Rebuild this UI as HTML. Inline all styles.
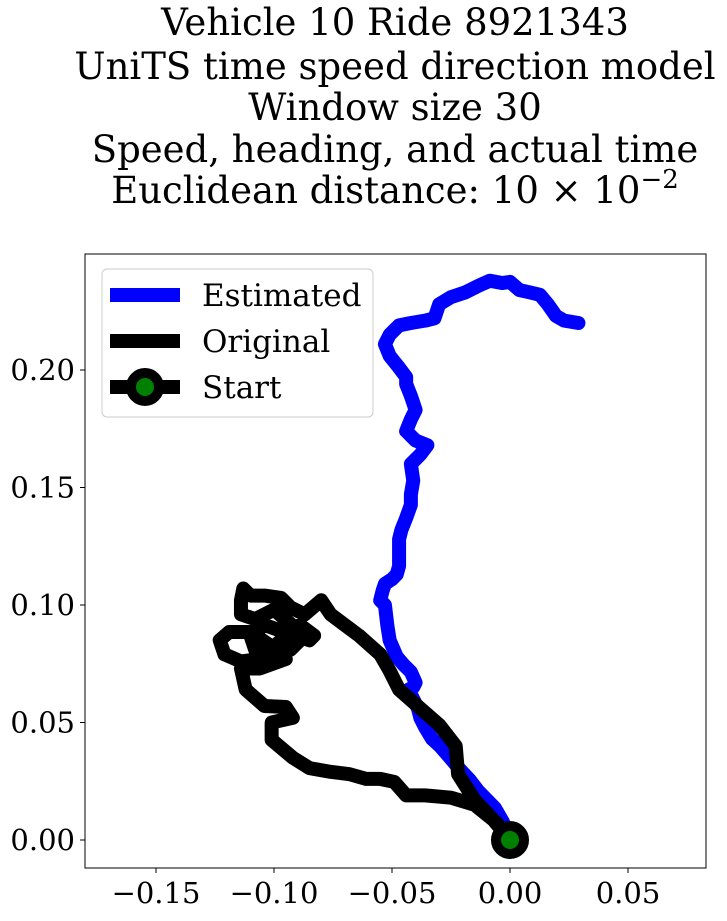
<!DOCTYPE html>
<html><head><meta charset="utf-8"><style>
body{margin:0;background:#fff;}
svg text{font-family:"DejaVu Serif","Liberation Serif",serif;fill:#000;}
</style></head><body>
<svg id="chart" width="727" height="916" xmlns="http://www.w3.org/2000/svg">
<g font-size="37" text-anchor="middle">
<text x="395" y="35">Vehicle 10 Ride 8921343</text>
<text x="395" y="79">UniTS time speed direction model</text>
<text x="395" y="120">Window size 30</text>
<text x="395" y="162">Speed, heading, and actual time</text>
<text x="395" y="203">Euclidean distance: 10 × 10<tspan dy="-15" font-size="26">−2</tspan></text>
</g>
<defs><clipPath id="clip"><rect x="85" y="254" width="621" height="614"/></clipPath></defs>
<g id="marks" clip-path="url(#clip)"></g>
<rect x="85" y="254" width="621" height="614" fill="none" stroke="#000" stroke-width="1"/>
<g id="axes"></g>
<g>
<rect x="102" y="269" width="271" height="148" rx="5" fill="#fff" fill-opacity="0.8" stroke="#ccc"/>
<g><line x1="110" y1="295" x2="180" y2="295" stroke="#0000ff" stroke-width="14"/><text x="202" y="306" font-size="31">Estimated</text></g>
<g><line x1="110" y1="341" x2="180" y2="341" stroke="#000" stroke-width="14"/><text x="202" y="352" font-size="31">Original</text></g>
<g><line x1="110" y1="387" x2="180" y2="387" stroke="#000" stroke-width="14"/><circle cx="145" cy="387" r="14" fill="#008000" stroke="#000" stroke-width="10"/><text x="202" y="398" font-size="31">Start</text></g>
</g>
</svg>
<script>
const estX=[0,-0.003,-0.0064,-0.0097,-0.0136,-0.017,-0.0212,-0.0254,-0.0297,-0.033,-0.036,-0.038,-0.039,-0.041,-0.043,-0.041,-0.040,-0.042,-0.045,-0.048,-0.051,-0.052,-0.053,-0.055,-0.054,-0.053,-0.050,-0.048,-0.047,-0.047,-0.046,-0.044,-0.042,-0.042,-0.041,-0.042,-0.038,-0.035,-0.040,-0.042,-0.044,-0.042,-0.040,-0.042,-0.044,-0.044,-0.047,-0.051,-0.053,-0.051,-0.047,-0.042,-0.036,-0.032,-0.030,-0.025,-0.019,-0.013,-0.0085,-0.0034,0,0.004,0.0085,0.0127,0.016,0.0195,0.023,0.029];
const estY=[0,0.0077,0.0136,0.017,0.021,0.0255,0.030,0.035,0.040,0.043,0.048,0.052,0.056,0.060,0.064,0.065,0.067,0.0715,0.0745,0.078,0.085,0.0915,0.100,0.102,0.106,0.109,0.111,0.113,0.1166,0.128,0.132,0.137,0.1426,0.147,0.153,0.160,0.164,0.168,0.170,0.172,0.174,0.179,0.183,0.189,0.194,0.197,0.201,0.206,0.211,0.215,0.219,0.220,0.221,0.222,0.228,0.231,0.233,0.236,0.238,0.237,0.2375,0.234,0.233,0.232,0.228,0.223,0.221,0.220];
const origX=[0,-0.007,-0.015,-0.022,-0.023,-0.030,-0.038,-0.047,-0.051,-0.055,-0.064,-0.070,-0.076,-0.080,-0.087,-0.093,-0.097,-0.104,-0.110,-0.113,-0.114,-0.114,-0.108,-0.100,-0.093,-0.089,-0.093,-0.102,-0.108,-0.110,-0.104,-0.097,-0.091,-0.085,-0.083,-0.089,-0.097,-0.106,-0.114,-0.121,-0.123,-0.119,-0.110,-0.102,-0.095,-0.106,-0.114,-0.112,-0.104,-0.095,-0.092,-0.101,-0.101,-0.092,-0.085,-0.076,-0.068,-0.061,-0.055,-0.049,-0.044,-0.036,-0.025,-0.015,-0.006,0];
const origY=[0,0.0085,0.017,0.028,0.040,0.049,0.056,0.064,0.072,0.079,0.087,0.0915,0.096,0.102,0.096,0.099,0.103,0.104,0.104,0.107,0.102,0.096,0.094,0.098,0.092,0.085,0.081,0.079,0.081,0.087,0.0915,0.089,0.087,0.085,0.087,0.0915,0.085,0.077,0.076,0.079,0.085,0.0885,0.0885,0.083,0.077,0.073,0.073,0.064,0.057,0.0566,0.052,0.050,0.0426,0.035,0.0306,0.029,0.028,0.026,0.026,0.0247,0.019,0.019,0.018,0.015,0.0077,0];
const xTicks=[-0.15,-0.10,-0.05,0.00,0.05];
const yTicks=[0.00,0.05,0.10,0.15,0.20];
const xLabels=["−0.15","−0.10","−0.05","0.00","0.05"];
const yLabels=["0.00","0.05","0.10","0.15","0.20"];
const sx=v=>510+v*2360, sy=v=>840-v*2350;
const NS="http://www.w3.org/2000/svg";
const marks=document.getElementById('marks'), axes=document.getElementById('axes');
function poly(xs,ys,color,name){
  const p=document.createElementNS(NS,'polyline');
  p.setAttribute('points',xs.map((x,i)=>sx(x)+','+sy(ys[i])).join(' '));
  p.setAttribute('fill','none');p.setAttribute('stroke',color);p.setAttribute('stroke-width','14');
  p.setAttribute('stroke-linejoin','round');p.setAttribute('stroke-linecap','round');
  
  
  marks.appendChild(p);
}
poly(estX,estY,'#0000ff','estimated-path');
poly(origX,origY,'#000','original-path');
const c=document.createElementNS(NS,'circle');
c.setAttribute('cx',sx(origX[0]));c.setAttribute('cy',sy(origY[0]));c.setAttribute('r','14');
c.setAttribute('fill','#008000');c.setAttribute('stroke','#000');c.setAttribute('stroke-width','10');


marks.appendChild(c);
xTicks.forEach((t,i)=>{
  const l=document.createElementNS(NS,'line');
  l.setAttribute('x1',sx(t));l.setAttribute('x2',sx(t));l.setAttribute('y1',868);l.setAttribute('y2',873);l.setAttribute('stroke','#000');
  
  
  axes.appendChild(l);
  const tx=document.createElementNS(NS,'text');
  tx.setAttribute('x',sx(t));tx.setAttribute('y',903);tx.setAttribute('font-size','29');tx.setAttribute('text-anchor','middle');
  tx.textContent=xLabels[i];
  
  
  axes.appendChild(tx);
});
yTicks.forEach((t,i)=>{
  const l=document.createElementNS(NS,'line');
  l.setAttribute('x1',80);l.setAttribute('x2',85);l.setAttribute('y1',sy(t));l.setAttribute('y2',sy(t));l.setAttribute('stroke','#000');
  
  
  axes.appendChild(l);
  const tx=document.createElementNS(NS,'text');
  tx.setAttribute('x',75);tx.setAttribute('y',sy(t)+10);tx.setAttribute('font-size','29');tx.setAttribute('text-anchor','end');
  tx.textContent=yLabels[i];
  
  
  axes.appendChild(tx);
});
</script>
</body></html>
